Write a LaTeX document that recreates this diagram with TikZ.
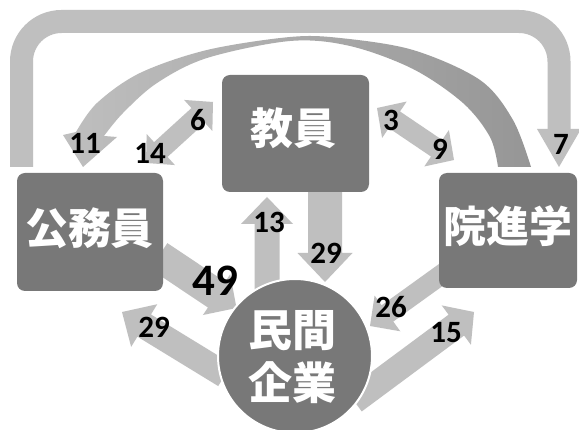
\documentclass[tikz,border=0pt]{standalone}
\usepackage{fontspec}
\setmainfont{Carlito}
\newfontfamily\jp{Noto Sans CJK JP}
\usetikzlibrary{calc}
\definecolor{arrowgray}{RGB}{191,191,191}
\definecolor{arrowdark}{RGB}{150,150,150}
\definecolor{boxgray}{RGB}{120,120,120}
% single block arrow: tail, tip, shaft half width, head half width, head length
\newcommand\fatarrow[5]{%
  \coordinate (fa-b) at ($(#2)!#5!(#1)$);
  \fill[arrowgray] ($(#1)!#3!90:(#2)$) -- ($(fa-b)!#3!90:(#2)$) -- ($(fa-b)!#4!90:(#2)$) -- (#2)
    -- ($(fa-b)!#4!-90:(#2)$) -- ($(fa-b)!#3!-90:(#2)$) -- ($(#1)!#3!-90:(#2)$) -- cycle;
}
% double block arrow: tip A, tip B, shaft half width, head half width, head length
\newcommand\fatdarrow[5]{%
  \coordinate (fd-a) at ($(#1)!#5!(#2)$);
  \coordinate (fd-b) at ($(#2)!#5!(#1)$);
  \fill[arrowgray] (#1) -- ($(fd-a)!#4!90:(#2)$) -- ($(fd-a)!#3!90:(#2)$) -- ($(fd-b)!#3!90:(#2)$)
    -- ($(fd-b)!#4!90:(#2)$) -- (#2) -- ($(fd-b)!#4!-90:(#2)$) -- ($(fd-b)!#3!-90:(#2)$)
    -- ($(fd-a)!#3!-90:(#2)$) -- ($(fd-a)!#4!-90:(#2)$) -- cycle;
}
\begin{document}
\begin{tikzpicture}[x=1pt,y=-1pt,
  box/.style={fill=boxgray, rounded corners=8pt, inner sep=0pt},
  jplbl/.style={text=white, font=\jp\bfseries\fontsize{43}{53}\selectfont, inner sep=0pt, align=center},
  num/.style={font=\bfseries\fontsize{31}{31}\selectfont, inner sep=0pt},
  bignum/.style={font=\bfseries\fontsize{45}{45}\selectfont, inner sep=0pt}]
\useasboundingbox[fill=white] (0,0) rectangle (579,430);

% curved tapered arrow (院進学 -> 公務員)
\coordinate (c11tip) at (83,167);
\shade[left color=arrowgray, middle color=arrowgray, right color=arrowdark]
  plot[smooth, tension=0.55] coordinates {(531,167) (513,120) (480,80) (413,50) (340,38) (290,37) (207,50) (140,73) (97,103) (76,132)}
  -- (63,135) -- (c11tip) -- (117,137) --
  plot[smooth, tension=0.55] coordinates {(104,136) (123,113) (157,83) (207,58) (290,41) (350,46) (413,69) (463,103) (490,137) (498,167)}
  -- cycle;

% big top arrow (公務員 -> 院進学)
\coordinate (t7a) at (21.5,167);
\coordinate (t7b) at (559,129);
\coordinate (t7tip) at (559,167);
\draw[arrowgray, line width=23pt, rounded corners=40pt] (t7a) -- (21.5,21.5) -- (559,21.5) -- (t7b);
\fill[arrowgray] ($(t7b)+(-22,0)$) -- ($(t7b)+(22,0)$) -- (t7tip) -- cycle;

% arrow end points
\coordinate (a14) at (146,163);
\coordinate (a6) at (213,102);
\coordinate (a3) at (377,108);
\coordinate (a9) at (454,160);
\coordinate (a13s) at (267,300);
\coordinate (a13) at (267,197);
\coordinate (a29s) at (325,186);
\coordinate (a29) at (325,282);
\coordinate (a49s) at (158.8,256);
\coordinate (a49) at (236.5,308);
\coordinate (b29s) at (225,375);
\coordinate (b29) at (122,312);
\coordinate (a26s) at (445,272);
\coordinate (a26) at (370,326);
\coordinate (a15s) at (354,401);
\coordinate (a15) at (474,312);

\fatdarrow{a14}{a6}{10pt}{21pt}{20pt}
\fatdarrow{a3}{a9}{10pt}{22pt}{21pt}
\fatarrow{a13s}{a13}{12.5pt}{26pt}{27pt}
\fatarrow{a29s}{a29}{17pt}{27.5pt}{29pt}
\fatarrow{a49s}{a49}{15.5pt}{24.5pt}{24pt}
\fatarrow{b29s}{b29}{13pt}{25pt}{26pt}
\fatarrow{a26s}{a26}{10pt}{22pt}{21.5pt}
\fatarrow{a15s}{a15}{13pt}{24.5pt}{22pt}

% boxes
\node[box, minimum width=147pt, minimum height=117pt] (kyoin) at (295.5,133.5) {};
\node[box, minimum width=146pt, minimum height=118pt] (komuin) at (90,232) {};
\node[box, minimum width=138pt, minimum height=115pt] (inshin) at (508,230.5) {};
\node[jplbl] (kyoin-t) at (293.5,128) {教員};
\node[jplbl] (komuin-t) at (89.5,228) {公務員};
\node[jplbl] (inshin-t) at (508,226) {院進学};

% circle
\node[circle, fill=boxgray, draw=white, line width=2pt, minimum size=154pt, inner sep=0pt] (minkan) at (295,356) {};
\node[jplbl, font=\jp\bfseries\fontsize{44}{53}\selectfont] (minkan-t) at (292,357) {民間\\企業};

% numbers
\node[num] (n11) at (85,143) {11};
\node[num] (n14) at (150,153) {14};
\node[num] (n6) at (198,120) {6};
\node[num] (n3) at (391,120) {3};
\node[num] (n9) at (440,149) {9};
\node[num] (n7) at (561,144) {7};
\node[num] (n13) at (269,222) {13};
\node[num] (n29a) at (326,253) {29};
\node[bignum] (n49) at (215,281) {49};
\node[num] (n29b) at (154,327) {29};
\node[num] (n26) at (391,307) {26};
\node[num] (n15) at (446,333) {15};
\end{tikzpicture}
\end{document}
